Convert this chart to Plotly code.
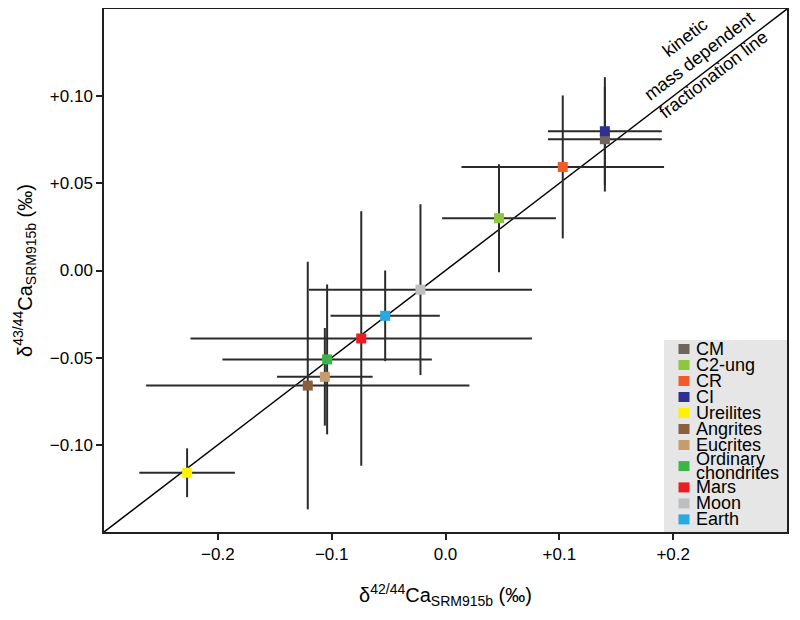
import plotly.graph_objects as go

# ---- data ----
groups = ["CM", "C2-ung", "CR", "CI", "Ureilites", "Angrites", "Eucrites",
          "Ordinary chondrites", "Mars", "Moon", "Earth"]
legend_labels = ["CM", "C2-ung", "CR", "CI", "Ureilites", "Angrites", "Eucrites",
                 "Ordinary|chondrites", "Mars", "Moon", "Earth"]
colors = ["#6f665b", "#8dc63f", "#f15a29", "#2e3192", "#fff200", "#8b5e3c",
          "#c69c6d", "#39b54a", "#ed1c24", "#bcbec0", "#27aae1"]
d42 = [0.140, 0.047, 0.103, 0.140, -0.227, -0.121, -0.106, -0.104, -0.074, -0.022, -0.053]
d43 = [0.0753, 0.030, 0.0594, 0.0799, -0.116, -0.066, -0.061, -0.051, -0.039, -0.011, -0.026]
err42 = [0.050, 0.050, 0.089, 0.050, 0.042, 0.142, 0.042, 0.092, 0.150, 0.098, 0.048]
err43 = [0.030, 0.031, 0.041, 0.031, 0.014, 0.071, 0.028, 0.043, 0.073, 0.049, 0.026]

x_ticks = [-0.2, -0.1, 0.0, 0.1, 0.2]
x_ticktext = ["\u22120.2", "\u22120.1", "0.0", "+0.1", "+0.2"]
y_ticks = [-0.10, -0.05, 0.0, 0.05, 0.10]
y_ticktext = ["\u22120.10", "\u22120.05", "0.00", "+0.05", "+0.10"]

line_x = [-0.30, 0.30]
line_slope = 0.5

FONT = "Liberation Sans, Arial, Helvetica, sans-serif"
DARK = "#231f20"

fig = go.Figure()

# fractionation line
fig.add_trace(go.Scatter(
    x=line_x, y=[v * line_slope for v in line_x], mode="lines",
    line=dict(color="black", width=1.5), showlegend=False, hoverinfo="skip"))

# error bars (under all markers)
fig.add_trace(go.Scatter(
    x=d42, y=d43, mode="markers",
    marker=dict(color="rgba(0,0,0,0)", size=1),
    error_x=dict(type="data", array=err42, visible=True, color="#2b2b2b", thickness=2, width=0),
    error_y=dict(type="data", array=err43, visible=True, color="#2b2b2b", thickness=2, width=0),
    showlegend=False, hoverinfo="skip"))

# markers
fig.add_trace(go.Scatter(
    x=d42, y=d43, mode="markers", text=groups,
    marker=dict(symbol="square", size=10, color=colors, line=dict(width=0)),
    showlegend=False, hovertemplate="%{text}<br>%{x}, %{y}<extra></extra>"))

# ---- geometry (page has an 8px body margin) ----
OFF = 8
W, H = 792, 612
ML, MR, MT, MB = 96, 13, 1, 88
PW, PH = W - ML - MR, H - MT - MB


def px_x(p):  # screen pixel -> paper x
    return (p - OFF - ML) / PW


def px_y(p):  # screen pixel -> paper y
    return (H - MB - (p - OFF)) / PH


shapes = []
annotations = []

# legend box
shapes.append(dict(type="rect", xref="paper", yref="paper",
                   x0=px_x(664), x1=1.0, y0=0.0, y1=px_y(340),
                   fillcolor="#e6e6e6", line=dict(width=0), layer="below"))

y = 349.0
for lab, col in zip(legend_labels, colors):
    parts = lab.split("|")
    if len(parts) > 1:
        y -= 1.6
    line_ys = [y + 13.4 * k for k in range(len(parts))]
    yc = sum(line_ys) / len(line_ys)
    shapes.append(dict(type="rect", xref="paper", yref="paper",
                       x0=px_x(678.5), x1=px_x(689.5),
                       y0=px_y(yc + 5), y1=px_y(yc - 5),
                       fillcolor=col, line=dict(width=0)))
    for t, ly in zip(parts, line_ys):
        annotations.append(dict(text=t, xref="paper", yref="paper",
                                x=px_x(694), y=px_y(ly), xanchor="left", yanchor="middle",
                                showarrow=False, font=dict(family=FONT, size=18, color="black")))
    y = line_ys[-1] + (14.6 if len(parts) > 1 else 16.0)

# line label (the line runs between "mass dependent" and "fractionation line")
annotations.append(dict(text="kinetic<br>mass dependent<br>fractionation line",
                        xref="paper", yref="paper", x=px_x(699), y=px_y(56.5),
                        xanchor="center", yanchor="middle", textangle=-37.5,
                        showarrow=False, align="center",
                        font=dict(family=FONT, size=18, color="black")))

axis_common = dict(showgrid=False, zeroline=False, showline=True, mirror=True,
                   linecolor=DARK, linewidth=1.5, ticks="outside", ticklen=6,
                   tickwidth=1.5, tickcolor=DARK,
                   tickfont=dict(family=FONT, size=17, color="black"))

fig.update_layout(
    width=W, height=H,
    margin=dict(l=ML, r=MR, t=MT, b=MB, autoexpand=False),
    paper_bgcolor="white", plot_bgcolor="white",
    font=dict(family=FONT, color="black"),
    xaxis=dict(range=[-0.30, 0.30], tickvals=x_ticks, ticktext=x_ticktext,
               title=dict(text="\u03b4<sup>42/44</sup>Ca<sub>SRM915b</sub> (\u2030)",
                          font=dict(family=FONT, size=20), standoff=25),
               **axis_common),
    yaxis=dict(range=[-0.15, 0.15], tickvals=y_ticks, ticktext=y_ticktext,
               title=dict(text="\u03b4<sup>43/44</sup>Ca<sub>SRM915b</sub> (\u2030)",
                          font=dict(family=FONT, size=20), standoff=12),
               **axis_common),
    shapes=shapes, annotations=annotations, showlegend=False,
)

fig.write_html("out.html")
